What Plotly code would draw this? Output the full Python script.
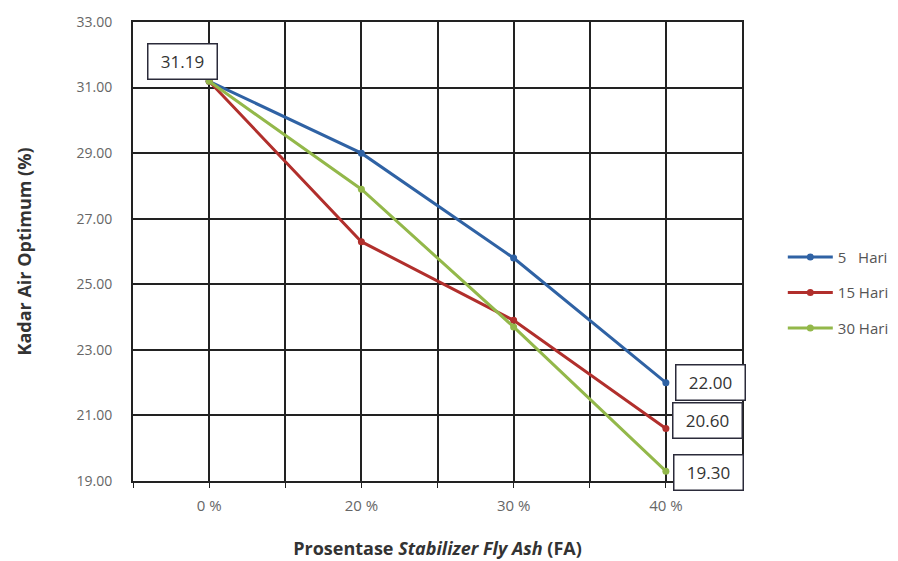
import plotly.graph_objects as go

categories = ["0 %", "20 %", "30 %", "40 %"]
s5 = [31.19, 29.00, 25.80, 22.00]
s15 = [31.19, 26.30, 23.90, 20.60]
s30 = [31.19, 27.90, 23.70, 19.30]
series_names = ["5   Hari", "15 Hari", "30 Hari"]
colors = ["#2f62a4", "#b12f2c", "#93b84a"]
y_ticks = [19, 21, 23, 25, 27, 29, 31, 33]

xpos = list(range(len(categories)))
fig = go.Figure()
for i, (name, vals, c) in enumerate(zip(series_names, [s5, s15, s30], colors)):
    fig.add_trace(go.Scatter(x=xpos, y=vals, name=name, mode="lines+markers",
                             legendgroup=f"g{i}",
                             line=dict(color=c, width=3),
                             marker=dict(color=c, size=7)))

# grid tick positions at category centres and boundaries
tv, tt = [], []
for i, c in enumerate(categories):
    tv += [i - 0.5, i]
    tt += ["", c]
tv.append(len(categories) - 0.5)
tt.append("")

box = dict(showarrow=False, bordercolor="#2b2b3a", borderwidth=1.5, borderpad=6,
           width=56, height=22, align="center", valign="middle",
           bgcolor="white", font=dict(family="Open Sans", size=17, color="#333"))
fig.add_annotation(x=0, y=s5[0], xref="x", yref="y", text=f"{s5[0]:.2f}",
                   xanchor="right", yanchor="bottom", xshift=9, yshift=1, **box)
fig.add_annotation(x=3, y=s5[3], xref="x", yref="y", text=f"{s5[3]:.2f}",
                   xanchor="left", yanchor="middle", xshift=9, yshift=0, **box)
fig.add_annotation(x=3, y=s15[3], xref="x", yref="y", text=f"{s15[3]:.2f}",
                   xanchor="left", yanchor="middle", xshift=6, yshift=8, **box)
fig.add_annotation(x=3, y=s30[3], xref="x", yref="y", text=f"{s30[3]:.2f}",
                   xanchor="left", yanchor="middle", xshift=7, yshift=-1, **box)

fig.update_layout(
    width=898, height=561,
    margin=dict(l=133, r=156, t=22, b=80, autoexpand=False),
    plot_bgcolor="white", paper_bgcolor="white",
    font=dict(family="Open Sans", size=14, color="#555"),
    showlegend=True,
    legend=dict(x=1.067, y=0.41, xanchor="left", yanchor="middle",
                font=dict(size=15, color="#555"), tracegroupgap=13,
                itemwidth=45),
    xaxis=dict(range=[-0.5, len(categories) - 0.5], tickmode="array",
               tickvals=tv, ticktext=tt, showgrid=True, gridcolor="#222",
               gridwidth=1.5, ticks="outside", ticklen=5, tickcolor="#222",
               showline=True, linecolor="#222", linewidth=2, mirror=True,
               zeroline=False, tickfont=dict(size=15, color="#666"),
               ticklabelstandoff=5, automargin=False,
               title=dict(text="<b>Prosentase <i>Stabilizer Fly Ash</i> (FA)</b>",
                          font=dict(size=18, color="#333"), standoff=28)),
    yaxis=dict(range=[19, 33], tickmode="array", tickvals=y_ticks,
               ticktext=[f"{v:.2f}" for v in y_ticks], showgrid=True,
               gridcolor="#222", gridwidth=1.5, showline=True, linecolor="#222",
               linewidth=2, mirror=True, zeroline=False, ticks="",
               tickfont=dict(size=14, color="#666"), ticklabelstandoff=16,
               automargin=False,
               title=dict(text="<b>Kadar Air Optimum (%)</b>",
                          font=dict(size=18, color="#333"), standoff=40)),
)
fig.write_html("out.html")
